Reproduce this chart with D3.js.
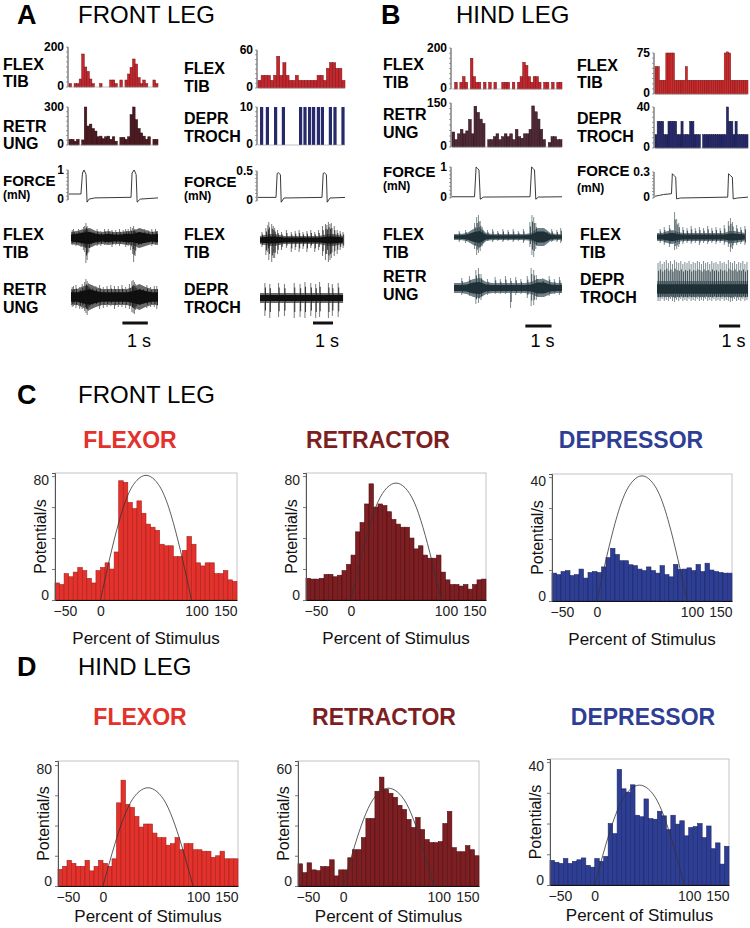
<!DOCTYPE html>
<html><head><meta charset="utf-8">
<script src="https://cdn.jsdelivr.net/npm/d3@7"></script>
<style>
body{margin:0;background:#fff}
svg{display:block}
text{font-family:Arial,"Liberation Sans",Helvetica,sans-serif}
</style></head>
<body><svg id="c" width="750" height="928"></svg>
<script>
// ================= DATA =================
const headingLetters = ["A","B","C","D"];
const headingTexts = ["FRONT LEG","HIND LEG","FRONT LEG","HIND LEG"];
const muscleTitles = ["FLEXOR","RETRACTOR","DEPRESSOR"];
const xTickValues = [-50,0,100,150];
const xAxisTitle = "Percent of Stimulus";
const yAxisTitle = "Potential/s";

// Stimulus profile (normalised) read at 0,10,...,100 % of stimulus
const stimPct = [0,10,20,30,40,50,60,70,80,90,100];
const stimProfile = [0,0.33,0.62,0.84,0.96,1,0.96,0.84,0.62,0.33,0];

// Histograms, 40 bins from -50 to 150 % (5 % per bin)
const frontFlexor = [11,10,17,15,18,21,19,14,11,19,21,24,20,31,77,76,63,59,64,56,49,47,45,36,35,35,28,28,32,41,36,24,22,24,24,17,17,19,13,12];
const frontRetractor = [14,13.5,13.5,14,16.5,16.5,15,16,19,23,29,44,50,62,75,60,62,61,57,52,49,47,47,40,33,35,29,27,27,29,18,13,10,10,9,10,7,10,13,13.5];
const frontDepressor = [9,8.5,9.5,9.8,8.2,8.5,10.3,7.4,9.2,9.5,9.2,11,14,17,15,13,13,11.7,11.4,10.3,9.8,11,9.8,9,11.4,8.5,7.8,11.8,10.2,10.3,10.7,9.8,11.8,9.5,12.2,10,9.5,9.2,9,9];
const hindFlexor = [11,13,17,15,13,13,17,10,13,17,15,13,18,55,70,54,52,46,39,41,41,35,32,32,27,28,32,24,28,28,24,24,23,23,19,20,23,18,18,18];
const hindRetractor = [11,6.6,11.5,8,7.6,9.6,9.6,13,5,8,8,14,18,18,24,33.5,33.5,47,54,48,46,44,40,38,33,29,34,28,23,21.5,21.5,22,31,37,19,17,17,20,18,15];
const hindDepressor = [8,7.4,7,8.6,7,7.7,8.2,8.8,6.4,5.8,8.6,7.7,9.3,20,16.7,37.6,31.3,30.2,32.6,22.7,22.2,28,21.6,21.4,24,22.5,18,22.7,19.8,20.9,16,18.7,19,20,15.4,19.2,11.8,13.7,6.8,12.6];
const histYTicks = [80,80,40,80,60,40];
const histYMax = [82,82,41,82.7,62,41];
const stimPeaks = [80.5,75.5,40.4,65,48.5,32.5];

// Top panels: spike-rate histograms (counts per bin)
const aFlexTib = [17,0,17,17,40,165,100,78,40,17,0,0,17,0,0,0,35,35,17,0,35,0,35,65,98,140,115,47,17,35,17,0,0,35,17];
const aRetrUng = [45,45,30,45,0,40,300,150,165,130,110,65,70,50,65,70,45,65,30,0,60,60,45,65,240,300,200,130,95,70,45,65,0,45,45];
const a2FlexTib = [12,20,20,20,12,20,50,20,40,20,12,12,20,12,12,12,12,12,12,20,20,12,31,40,40,31,31,12];
const a2DeprEvents = [0.1,0.39,0.8,1.19,2.05,2.27,2.5,2.7,2.94,3.14,3.54,3.77,4.17];
const bFlexTib = [0,33,0,33,60,33,0,150,60,33,33,0,33,0,33,0,33,0,0,33,33,33,0,33,0,33,60,130,115,60,33,60,60,33,0,33,33,0,33,0,33,33];
const bRetrUng = [51,25,45,60,45,55,94,45,139,118,95,80,0,25,25,35,45,25,35,45,35,45,25,60,35,30,45,45,60,140,120,95,60,25,0,15,35,35,25,25];
const b2FlexTib = [50,50,25,25,25,75,75,75,75,25,25,25,25,25,50,25,25,25,25,25,25,25,25,25,25,25,25,25,25,25,25,25,75,77,75,25,25,25,25,25,25,25,25];
const b2DeprTroch = [13,26,26,26,13,13,26,26,26,26,13,13,26,13,13,13,26,26,13,13,13,0,13,13,13,13,13,13,13,13,13,13,13,40,26,26,13,26,13,13,13,13,13];

// Force traces: [time s, force mN]
const aForce = [[0,0.2],[0.47,0.2],[0.53,0.9],[0.59,1.0],[0.67,0.85],[0.71,-0.07],[0.79,0.03],[1.02,0.07],[2.44,0.09],[2.48,0.9],[2.56,1.0],[2.64,0.85],[2.68,-0.07],[2.8,0.03],[3.5,0.07]];
const a2Force = [[0,0.06],[0.9,0.06],[0.96,0.46],[1.02,0.47],[1.12,0.44],[1.16,-0.02],[1.3,0.05],[3.2,0.06],[3.26,0.46],[3.32,0.47],[3.42,0.44],[3.46,-0.02],[3.6,0.05],[4.35,0.06]];
const bForce = [[0,0.04],[0.86,0.04],[0.92,1.0],[0.98,0.95],[1.03,0.9],[1.08,-0.04],[1.2,0.03],[2.98,0.04],[3.04,1.0],[3.1,0.95],[3.15,0.9],[3.2,-0.04],[3.3,0.03],[4.2,0.04]];
const b2Force = [[0,0.02],[0.2,0.03],[0.4,0.04],[0.78,0.05],[0.82,0.28],[0.9,0.26],[0.98,0.24],[1.02,-0.01],[1.2,0.0],[3.44,0.01],[3.48,0.28],[3.56,0.26],[3.66,0.24],[3.7,-0.01],[3.9,0.0],[4.4,0.01]];

// Raw nerve recordings: envelope half-amplitude every 0.25 s, and spikes [t, up, down]
const aFlexEnv = [6,7,9,10,7,6,7,6,6,7,7,10,8,6,7];
const aFlexSpk = [[0.05,8,7],[0.1,9,6],[0.2,7,8],[0.3,9,5],[0.4,8,9],[0.5,11,12],[0.55,12,14],[0.6,15,25],[0.65,12,22],[0.72,9,14],[0.8,8,9],[0.9,8,7],[1.05,9,8],[1.2,7,8],[1.35,9,7],[1.5,9,6],[1.65,8,9],[1.8,8,7],[1.95,9,8],[2.1,8,6],[2.2,9,9],[2.3,9,8],[2.4,11,12],[2.48,10,16],[2.52,12,24],[2.58,9,18],[2.7,8,10],[2.8,7,9],[2.95,9,7],[3.1,8,6],[3.25,9,8],[3.4,9,7]];
const aRetrEnv = [8,8,11,13,10,8,8,8,8,8,10,13,10,8,8];
const aRetrSpk = [[0.05,10,10],[0.1,11,9],[0.2,12,11],[0.35,10,12],[0.45,13,12],[0.55,15,14],[0.6,18,16],[0.65,16,18],[0.7,14,14],[0.75,12,12],[0.85,12,11],[1.0,11,10],[1.15,12,12],[1.3,10,11],[1.45,11,10],[1.6,12,9],[1.75,11,12],[1.9,11,10],[2.05,12,10],[2.2,10,11],[2.35,13,12],[2.45,16,15],[2.5,17,16],[2.55,15,17],[2.6,13,13],[2.75,12,11],[2.9,11,9],[3.05,12,11],[3.2,10,10],[3.35,11,10],[3.45,11,12]];
const a2FlexEnv = [4,5,6,6,5,4,4,4,4,4,4,4,4,5,6,6,5,4];
const a2FlexSpk = [[0.1,8,7],[0.3,12,15],[0.4,15,12],[0.45,18,20],[0.6,16,22],[0.68,14,18],[0.75,12,18],[0.9,10,14],[1.1,8,10],[1.35,10,8],[1.6,8,12],[1.8,9,10],[2.0,10,12],[2.2,8,9],[2.4,9,12],[2.6,10,8],[2.8,8,12],[3.0,10,10],[3.2,14,16],[3.35,16,20],[3.42,15,14],[3.5,18,22],[3.58,16,20],[3.65,17,18],[3.8,14,16],[3.95,10,14],[4.1,9,10],[4.25,8,8]];
const a2DeprEnv = [5,5,5,5,5,5,5,5,5,5,5,5,5,5,5,5,5,5];
const a2DeprSpk = [[0.25,15,18],[0.5,14,20],[0.95,15,19],[1.25,14,18],[1.75,15,20],[2.05,14,19],[2.3,16,20],[2.6,15,18],[2.85,14,20],[3.05,16,19],[3.5,15,20],[3.7,14,18],[4.0,15,19]];
const bFlexEnv = [3,3,4,8,10,4,3,3,3,3,3,3,4,9,9,4,3,3];
const bFlexSpk = [[0.2,6,5],[0.45,7,6],[0.8,14,12],[0.88,20,18],[0.95,22,16],[1.02,16,14],[1.1,10,9],[1.3,7,4],[1.5,8,5],[1.7,6,4],[1.9,8,5],[2.1,7,4],[2.3,8,5],[2.5,6,4],[2.7,8,6],[2.95,15,10],[3.03,22,18],[3.1,20,20],[3.18,14,12],[3.4,8,5],[3.6,7,6],[3.8,8,5],[4.0,7,5],[4.15,9,6]];
const bRetrEnv = [5,5,6,9,10,6,5,5,5,5,5,5,6,9,9,6,5,5];
const bRetrSpk = [[0.3,10,7],[0.6,12,8],[0.85,18,16],[0.95,20,15],[1.05,14,12],[1.3,9,7],[1.6,11,6],[1.8,9,6],[2.0,12,6],[2.2,10,20],[2.4,11,7],[2.6,9,6],[2.85,12,10],[3.0,20,18],[3.1,18,17],[3.2,13,12],[3.45,10,7],[3.7,12,8],[3.9,9,6],[4.1,11,7]];
const b2FlexEnv = [4,4,6,7,5,4,4,4,4,4,4,4,4,4,6,6,5,4];
const b2FlexSpk = [[0.15,8,6],[0.35,10,8],[0.6,12,10],[0.85,25,13],[0.95,18,12],[1.05,14,10],[1.25,10,7],[1.45,9,6],[1.65,11,7],[1.85,9,6],[2.05,10,8],[2.25,9,6],[2.45,11,7],[2.65,9,6],[2.85,10,7],[3.05,9,6],[3.25,12,8],[3.45,16,10],[3.55,19,15],[3.65,15,12],[3.85,12,8],[4.05,10,7],[4.25,11,8]];
const b2DeprEnv = [8,8,8,8,8,8,8,8,8,8,8,8,8,8,8,8,8,8,8];
const b2DeprSpk = [[0.05,26,12],[0.15,28,12],[0.25,25,10],[0.35,27,12],[0.45,29,11],[0.55,26,12],[0.65,28,10],[0.75,25,12],[0.85,29,13],[0.95,27,11],[1.05,26,12],[1.15,28,10],[1.25,25,12],[1.35,27,11],[1.45,26,12],[1.55,28,10],[1.65,25,12],[1.75,27,11],[1.85,26,12],[1.95,28,10],[2.05,27,12],[2.15,25,11],[2.25,28,12],[2.35,26,10],[2.45,27,12],[2.55,25,11],[2.65,28,12],[2.75,26,10],[2.85,27,12],[2.95,25,11],[3.05,28,12],[3.15,26,10],[3.25,27,12],[3.35,25,11],[3.45,29,12],[3.55,27,13],[3.65,26,12],[3.75,28,10],[3.85,25,12],[3.95,27,11],[4.05,26,12],[4.15,28,10],[4.25,25,12],[4.35,27,11]];

const colorFlex = "#e3312b", colorRetr = "#7d1f22", colorDepr = "#2f3e95";

// ================= DRAWING =================
const svg = d3.select("#c");

const headPos = [[17,78,24],[381,456,24],[17,78,404],[17,78,676]];
headingLetters.forEach((L,i)=>{
  svg.append("text").attr("x",headPos[i][0]).attr("y",headPos[i][2]).attr("font-size",27).attr("font-weight","bold").text(L);
  svg.append("text").attr("x",headPos[i][1]).attr("y",headPos[i][2]-1).attr("font-size",24).text(headingTexts[i]);
});

function yAxisSmall(x0, top, bottom, topLabel) {
  const g = svg.append("g");
  const y = d3.scaleLinear().domain([0,1]).range([bottom, top]);
  g.append("line").attr("x1",x0-1).attr("x2",x0-1).attr("y1",top).attr("y2",bottom).attr("stroke","#444").attr("stroke-width",1);
  d3.range(0,1.001,0.125).forEach(v=>{
    g.append("line").attr("x1",x0-3).attr("x2",x0-1).attr("y1",y(v)).attr("y2",y(v)).attr("stroke","#777").attr("stroke-width",0.7);
  });
  g.append("text").attr("x",x0-5).attr("y",top+4).attr("text-anchor","end").attr("font-size",12).attr("font-weight","bold").text(topLabel);
  g.append("text").attr("x",x0-5).attr("y",bottom+3).attr("text-anchor","end").attr("font-size",12).attr("font-weight","bold").text("0");
}
function rowLabel(x, y1, t1, y2, t2, small) {
  svg.append("text").attr("x",x).attr("y",y1).attr("font-size",t1==="FORCE"?15:16).attr("font-weight","bold").text(t1);
  svg.append("text").attr("x",x).attr("y",y2).attr("font-size",small?12:16).attr("font-weight","bold").text(t2);
}
function topHist(c, top, bottom, vals, ymax, fill, stroke, topLabel) {
  const x = d3.scaleLinear().domain([0,c.T]).range([c.x0,c.x1]);
  const y = d3.scaleLinear().domain([0,ymax]).range([bottom,top]);
  const bw = c.T/vals.length;
  svg.append("g").selectAll("rect").data(vals).join("rect")
    .attr("x",(d,i)=>x(i*bw)).attr("width",(d,i)=>x((i+1)*bw)-x(i*bw))
    .attr("y",d=>y(d)).attr("height",d=>bottom-y(d))
    .attr("fill",fill).attr("stroke",stroke).attr("stroke-width",0.5);
  svg.append("line").attr("x1",c.x0).attr("x2",c.x1).attr("y1",bottom).attr("y2",bottom).attr("stroke","#999").attr("stroke-width",0.6);
  yAxisSmall(c.x0, top, bottom, topLabel);
}
function topEvents(c, top, bottom, events, width, fill, topLabel) {
  const x = d3.scaleLinear().domain([0,c.T]).range([c.x0,c.x1]);
  svg.append("g").selectAll("rect").data(events).join("rect")
    .attr("x",d=>x(d)).attr("width",d=>x(d+width)-x(d))
    .attr("y",top).attr("height",bottom-top).attr("fill",fill);
  svg.append("line").attr("x1",c.x0).attr("x2",c.x1).attr("y1",bottom).attr("y2",bottom).attr("stroke","#999").attr("stroke-width",0.6);
  yAxisSmall(c.x0, top, bottom, topLabel);
}
function forceTrace(c, top, bottom, pts, ymax, topLabel) {
  const x = d3.scaleLinear().domain([0,c.T]).range([c.x0,c.x1]);
  const y = d3.scaleLinear().domain([0,ymax]).range([bottom,top]);
  svg.append("path").datum(pts).attr("d",d3.line().x(d=>x(d[0])).y(d=>y(d[1])))
    .attr("fill","none").attr("stroke","#222").attr("stroke-width",0.9);
  yAxisSmall(c.x0, top, bottom, topLabel);
}
function rawTrace(c, cy, env, spikes, color, fringe) {
  const x = d3.scaleLinear().domain([0,c.T]).range([c.x0+2,c.x1]);
  const y = d3.scaleLinear().domain([-30,30]).range([cy+30,cy-30]);
  const et = env.map((e,i)=>[Math.min(i*0.25,c.T),e]);
  const ar = k => d3.area().x(d=>x(d[0])).y0(d=>y(-d[1]*k)).y1(d=>y(d[1]*k)).curve(d3.curveLinear);
  svg.append("path").datum(et).attr("d",ar(1)).attr("fill",fringe);
  svg.append("g").selectAll("line").data(spikes).join("line")
    .attr("x1",d=>x(d[0])).attr("x2",d=>x(d[0])).attr("y1",d=>y(d[1])).attr("y2",d=>y(-d[2]))
    .attr("stroke",fringe).attr("stroke-width",0.9);
  svg.append("path").datum(et).attr("d",ar(0.6)).attr("fill",color);
  svg.append("g").selectAll("line").data(spikes).join("line")
    .attr("x1",d=>x(d[0])+0.6).attr("x2",d=>x(d[0])+0.6).attr("y1",d=>y(d[1]*0.7)).attr("y2",d=>y(-d[2]*0.7))
    .attr("stroke",color).attr("stroke-width",0.8);
}
function scaleBar(c, t0, yb, ty) {
  const x = d3.scaleLinear().domain([0,c.T]).range([c.x0,c.x1]);
  svg.append("line").attr("x1",x(t0)).attr("x2",x(t0+1)).attr("y1",yb).attr("y2",yb).attr("stroke","#111").attr("stroke-width",3);
  svg.append("text").attr("x",(x(t0)+x(t0+1))/2+4).attr("y",ty).attr("text-anchor","middle").attr("font-size",18).text("1 s");
}

const cA1 = {x0:69,x1:158,T:3.5}, cA2 = {x0:258,x1:345,T:4.35}, cB1 = {x0:452,x1:562,T:4.2}, cB2 = {x0:655,x1:748,T:4.4};

// A column 1
rowLabel(3,70,"FLEX",87,"TIB");
topHist(cA1,47,87,aFlexTib,200,"#c3262c","#7a1418","200");
rowLabel(3,132,"RETR",149,"UNG");
topHist(cA1,107,145,aRetrUng,300,"#4e1a22","#2c0c10","300");
rowLabel(3,186,"FORCE",199,"(mN)",true);
forceTrace(cA1,170,200,aForce,1,"1");
rowLabel(3,240,"FLEX",258,"TIB");
rawTrace(cA1,238,aFlexEnv,aFlexSpk,"#101010","#6a6a6a");
rowLabel(3,295,"RETR",313,"UNG");
rawTrace(cA1,297,aRetrEnv,aRetrSpk,"#101010","#6a6a6a");
scaleBar(cA1,2.1,323,347);

// A column 2
rowLabel(184,74,"FLEX",92,"TIB");
topHist(cA2,50,88,a2FlexTib,60,"#c3262c","#7a1418","60");
rowLabel(184,124,"DEPR",142,"TROCH");
topEvents(cA2,107,145,a2DeprEvents,0.16,"#262a6b","10");
rowLabel(184,187,"FORCE",200,"(mN)",true);
forceTrace(cA2,171,201,a2Force,0.5,"0.5");
rowLabel(184,240,"FLEX",258,"TIB");
rawTrace(cA2,240,a2FlexEnv,a2FlexSpk,"#101010","#6a6a6a");
rowLabel(184,295,"DEPR",313,"TROCH");
rawTrace(cA2,298,a2DeprEnv,a2DeprSpk,"#101010","#6a6a6a");
scaleBar(cA2,2.75,323,347);

// B column 1
rowLabel(383,70,"FLEX",88,"TIB");
topHist(cB1,48,89,bFlexTib,200,"#c3262c","#7a1418","200");
rowLabel(383,120,"RETR",138,"UNG");
topHist(cB1,103,147,bRetrUng,150,"#4f2a36","#2c121a","150");
rowLabel(383,177,"FORCE",190,"(mN)",true);
forceTrace(cB1,167,198,bForce,1,"1");
rowLabel(383,240,"FLEX",258,"TIB");
rawTrace(cB1,237,bFlexEnv,bFlexSpk,"#1f3036","#6f8186");
rowLabel(383,282,"RETR",300,"UNG");
rawTrace(cB1,288,bRetrEnv,bRetrSpk,"#1f3036","#6f8186");
scaleBar(cB1,2.8,326,347);

// B column 2
rowLabel(577,71,"FLEX",88,"TIB");
topHist(cB2,53,94,b2FlexTib,75,"#cf2a2a","#7a1418","75");
rowLabel(577,124,"DEPR",142,"TROCH");
topHist(cB2,107,148,b2DeprTroch,40,"#27296e","#14163f","40");
rowLabel(577,176,"FORCE",192,"(mN)",true);
forceTrace(cB2,172,198,b2Force,0.3,"0.3");
rowLabel(580,240,"FLEX",258,"TIB");
rawTrace(cB2,237,b2FlexEnv,b2FlexSpk,"#1f3036","#6f8186");
rowLabel(580,285,"DEPR",303,"TROCH");
rawTrace(cB2,289,b2DeprEnv,b2DeprSpk,"#1f3036","#6f8186");
scaleBar(cB2,3.03,326,347);

// ---- Bottom histograms
const histData = [frontFlexor,frontRetractor,frontDepressor,hindFlexor,hindRetractor,hindDepressor];
const fills = [colorFlex,colorRetr,colorDepr];
const strokes = ["#a8201c","#520f12","#1c2868"];
const boxes = [
  {l:55,r:237,t:473,b:600},{l:306,r:486,t:473,b:600},{l:552,r:732,t:474,b:601},
  {l:58,r:238,t:761,b:886},{l:298,r:479,t:761,b:886},{l:550,r:729,t:759,b:885}
];
const titleCenters = [[130,448],[378,448],[631,448],[140,725],[384,725],[643,725]];

histData.forEach((vals,k)=>{
  const bx = boxes[k], m = k%3;
  const g = svg.append("g");
  const x = d3.scaleLinear().domain([-50,150]).range([bx.l,bx.r]);
  const y = d3.scaleLinear().domain([0,histYMax[k]]).range([bx.b,bx.t]);
  const bw = 200/vals.length;
  svg.append("text").attr("x",titleCenters[k][0]).attr("y",titleCenters[k][1]).attr("text-anchor","middle")
    .attr("font-size",23).attr("font-weight","bold").attr("fill",fills[m]).text(muscleTitles[m]);
  g.append("rect").attr("x",bx.l).attr("y",bx.t).attr("width",bx.r-bx.l).attr("height",bx.b-bx.t)
    .attr("fill","none").attr("stroke","#c4c4c4").attr("stroke-width",1);
  g.append("g").selectAll("rect").data(vals).join("rect")
    .attr("x",(d,i)=>x(-50+i*bw)).attr("width",(d,i)=>x(-50+(i+1)*bw)-x(-50+i*bw))
    .attr("y",d=>y(d)).attr("height",d=>bx.b-y(d))
    .attr("fill",fills[m]).attr("stroke",strokes[m]).attr("stroke-width",0.6);
  const curvePts = stimPct.map((p,i)=>[p, stimProfile[i]*stimPeaks[k]]);
  g.append("path").datum(curvePts)
    .attr("d",d3.line().x(d=>x(d[0])).y(d=>y(d[1])).curve(d3.curveNatural))
    .attr("fill","none").attr("stroke","#333").attr("stroke-width",0.8);
  const step = histYTicks[k]/4;
  const ya = d3.axisLeft(y).tickValues(d3.range(0,histYTicks[k]+0.01,step)).tickSize(3).tickFormat("");
  g.append("g").attr("transform",`translate(${bx.l},0)`).call(ya)
    .call(s=>{s.select(".domain").attr("stroke","#555");s.selectAll(".tick line").attr("stroke","#777");});
  [[0,-5],[histYTicks[k],4]].forEach(([v,dy])=>{
    g.append("text").attr("x",bx.l-6).attr("y",y(v)+dy).attr("dy","0.35em").attr("text-anchor","end")
      .attr("font-size",14).attr("fill","#222").text(v);
  });
  const xa = d3.axisBottom(x).tickValues(xTickValues).tickSize(0).tickPadding(6);
  g.append("g").attr("transform",`translate(0,${bx.b})`).call(xa)
    .call(s=>{
      s.select(".domain").attr("stroke","#111");
      s.selectAll(".tick text").attr("font-size",14).attr("fill","#222")
        .attr("font-family","Arial,'Liberation Sans',sans-serif")
        .attr("text-anchor",d=>d===-50?"start":(d===150?"end":"middle"))
        .attr("dx",d=>d===100?5:(d===-50?-2:0));
    });
  g.append("text").attr("transform",`translate(${bx.l-9},${(bx.t+bx.b)/2}) rotate(-90)`)
    .attr("text-anchor","middle").attr("font-size",16).attr("fill","#111").text(yAxisTitle);
  g.append("text").attr("x",(bx.l+bx.r)/2).attr("y",bx.b+(k<3?44:36)).attr("text-anchor","middle")
    .attr("font-size",17).attr("fill","#111").text(xAxisTitle);
});
</script></body></html>
